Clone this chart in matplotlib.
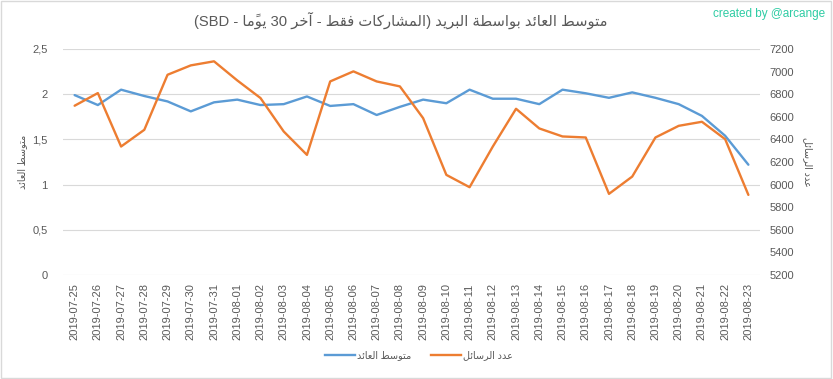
# -*- coding: utf-8 -*-
"""Average payout per post vs number of posts (last 30 days)"""
import matplotlib
matplotlib.use('Agg')
import matplotlib.pyplot as plt
from matplotlib.ticker import FuncFormatter, MultipleLocator
from matplotlib.lines import Line2D
from matplotlib.patches import Rectangle

dates = ['2019-07-25', '2019-07-26', '2019-07-27', '2019-07-28', '2019-07-29',
         '2019-07-30', '2019-07-31', '2019-08-01', '2019-08-02', '2019-08-03',
         '2019-08-04', '2019-08-05', '2019-08-06', '2019-08-07', '2019-08-08',
         '2019-08-09', '2019-08-10', '2019-08-11', '2019-08-12', '2019-08-13',
         '2019-08-14', '2019-08-15', '2019-08-16', '2019-08-17', '2019-08-18',
         '2019-08-19', '2019-08-20', '2019-08-21', '2019-08-22', '2019-08-23']
avg_payout = [1.99, 1.88, 2.05, 1.98, 1.92, 1.81, 1.91, 1.94, 1.88, 1.89,
              1.975, 1.87, 1.89, 1.77, 1.86, 1.94, 1.90, 2.05, 1.95, 1.95,
              1.89, 2.05, 2.01, 1.96, 2.02, 1.96, 1.89, 1.76, 1.54, 1.22]
post_count = [6698, 6810, 6337, 6485, 6972, 7055, 7091, 6922, 6766, 6470,
              6263, 6913, 7002, 6913, 6869, 6588, 6086, 5977, 6337, 6671,
              6497, 6426, 6417, 5918, 6071, 6417, 6520, 6556, 6402, 5909]

title_ar = 'متوسط العائد بواسطة البريد (المشاركات فقط - آخر 30 يومًا - SBD)'
left_label_ar = 'متوسط العائد'
right_label_ar = 'عدد الرسائل'

# (first presentation form, number of forms): isol, final, init, medial
FORMS = {
    '\u0622': (0xFE81, 2), '\u0626': (0xFE89, 4), '\u0627': (0xFE8D, 2),
    '\u0628': (0xFE8F, 4), '\u0629': (0xFE93, 2), '\u062A': (0xFE95, 4),
    '\u062E': (0xFEA5, 4), '\u062F': (0xFEA9, 2), '\u0631': (0xFEAD, 2),
    '\u0633': (0xFEB1, 4), '\u0634': (0xFEB5, 4), '\u0637': (0xFEC1, 4),
    '\u0639': (0xFEC9, 4), '\u0641': (0xFED1, 4), '\u0642': (0xFED5, 4),
    '\u0643': (0xFED9, 4), '\u0644': (0xFEDD, 4), '\u0645': (0xFEE1, 4),
    '\u0648': (0xFEED, 2), '\u064A': (0xFEF1, 4),
}


def is_mark(c):
    return '\u064B' <= c <= '\u0652'


def ar(text):
    """Shape arabic letters and put the string in visual (LTR) order"""
    chars = list(text)
    shaped = []
    for i, c in enumerate(chars):
        if c not in FORMS:
            shaped.append(c)
            continue
        j = i - 1
        while j >= 0 and is_mark(chars[j]):
            j -= 1
        prev_joins = j >= 0 and chars[j] in FORMS and FORMS[chars[j]][1] == 4
        k = i + 1
        while k < len(chars) and is_mark(chars[k]):
            k += 1
        next_joins = (k < len(chars) and chars[k] in FORMS
                      and FORMS[c][1] == 4)
        base = FORMS[c][0]
        if prev_joins and next_joins:
            form = 3
        elif prev_joins:
            form = 1
        elif next_joins:
            form = 2
        else:
            form = 0
        shaped.append(chr(base + form))
    # group base + marks, reverse
    clusters = []
    for c in shaped:
        if is_mark(c) and clusters:
            clusters[-1] += c
        else:
            clusters.append(c)
    clusters.reverse()
    # put latin / digit runs back in LTR order, mirror brackets
    out = []
    run = []
    for c in clusters:
        if c.isascii() and c.isalnum():
            run.append(c)
        else:
            out.extend(reversed(run))
            run = []
            out.append({'(': ')', ')': '('}.get(c, c))
    out.extend(reversed(run))
    return ''.join(out)


plt.rcParams['font.family'] = ['Liberation Sans', 'DejaVu Sans']
grey = '#595959'
blue = '#5b9bd5'
orange = '#ed7d31'

fig = plt.figure(figsize=(8.33, 3.79), dpi=100)
fig.patches.append(Rectangle((0.001, 0.002), 0.997, 0.995, transform=fig.transFigure,
                             fill=False, edgecolor='#d9d9d9', linewidth=1))

ax = fig.add_axes([63 / 833, 1 - 275 / 379, (760 - 63) / 833, (275 - 49) / 379])
x = list(range(len(dates)))
ax.plot(x, avg_payout, color=blue, linewidth=1.7, solid_capstyle='round')
ax.set_ylim(0, 2.5)
ax.yaxis.set_major_locator(MultipleLocator(0.5))
ax.yaxis.set_major_formatter(FuncFormatter(lambda v, p: ('%g' % v).replace('.', ',')))
ax.set_xlim(-0.5, len(dates) - 0.5)
ax.set_xticks(x)
ax.set_xticklabels(dates, rotation=90)
ax.grid(axis='y', color='#d9d9d9', linewidth=0.8)
ax.set_axisbelow(True)
for s in ax.spines.values():
    s.set_visible(False)
ax.tick_params(axis='both', length=0, colors=grey, labelsize=8)
ax.tick_params(axis='y', pad=11)
ax.tick_params(axis='x', pad=6)
ax.set_ylabel(ar(left_label_ar), color=grey, fontsize=7, labelpad=4)

ax2 = ax.twinx()
ax2.plot(x, post_count, color=orange, linewidth=1.7, solid_capstyle='round')
ax2.set_ylim(5200, 7200)
ax2.yaxis.set_major_locator(MultipleLocator(200))
for s in ax2.spines.values():
    s.set_visible(False)
ax2.tick_params(axis='y', length=0, colors=grey, labelsize=8, pad=7)
ax2.set_ylabel(ar(right_label_ar), color=grey, fontsize=7, rotation=270, labelpad=13)

fig.text(401 / 833, 1 - 20 / 379, ar(title_ar), ha='center', va='center',
         color=grey, fontsize=10.6)
fig.text(0.99, 1 - 14 / 379, 'created by @arcange', ha='right', va='center',
         color='#2ecca4', fontsize=8.5)

handles = [Line2D([], [], color=blue, linewidth=1.7),
           Line2D([], [], color=orange, linewidth=1.7)]
fig.legend(handles, [ar(left_label_ar), ar(right_label_ar)], loc='center',
           bbox_to_anchor=(419 / 833, 1 - 355 / 379), ncol=2, frameon=False,
           fontsize=7, labelcolor=grey, handlelength=3.1, handletextpad=0.2,
           columnspacing=2.0)

fig.savefig('out.png', dpi=100)
